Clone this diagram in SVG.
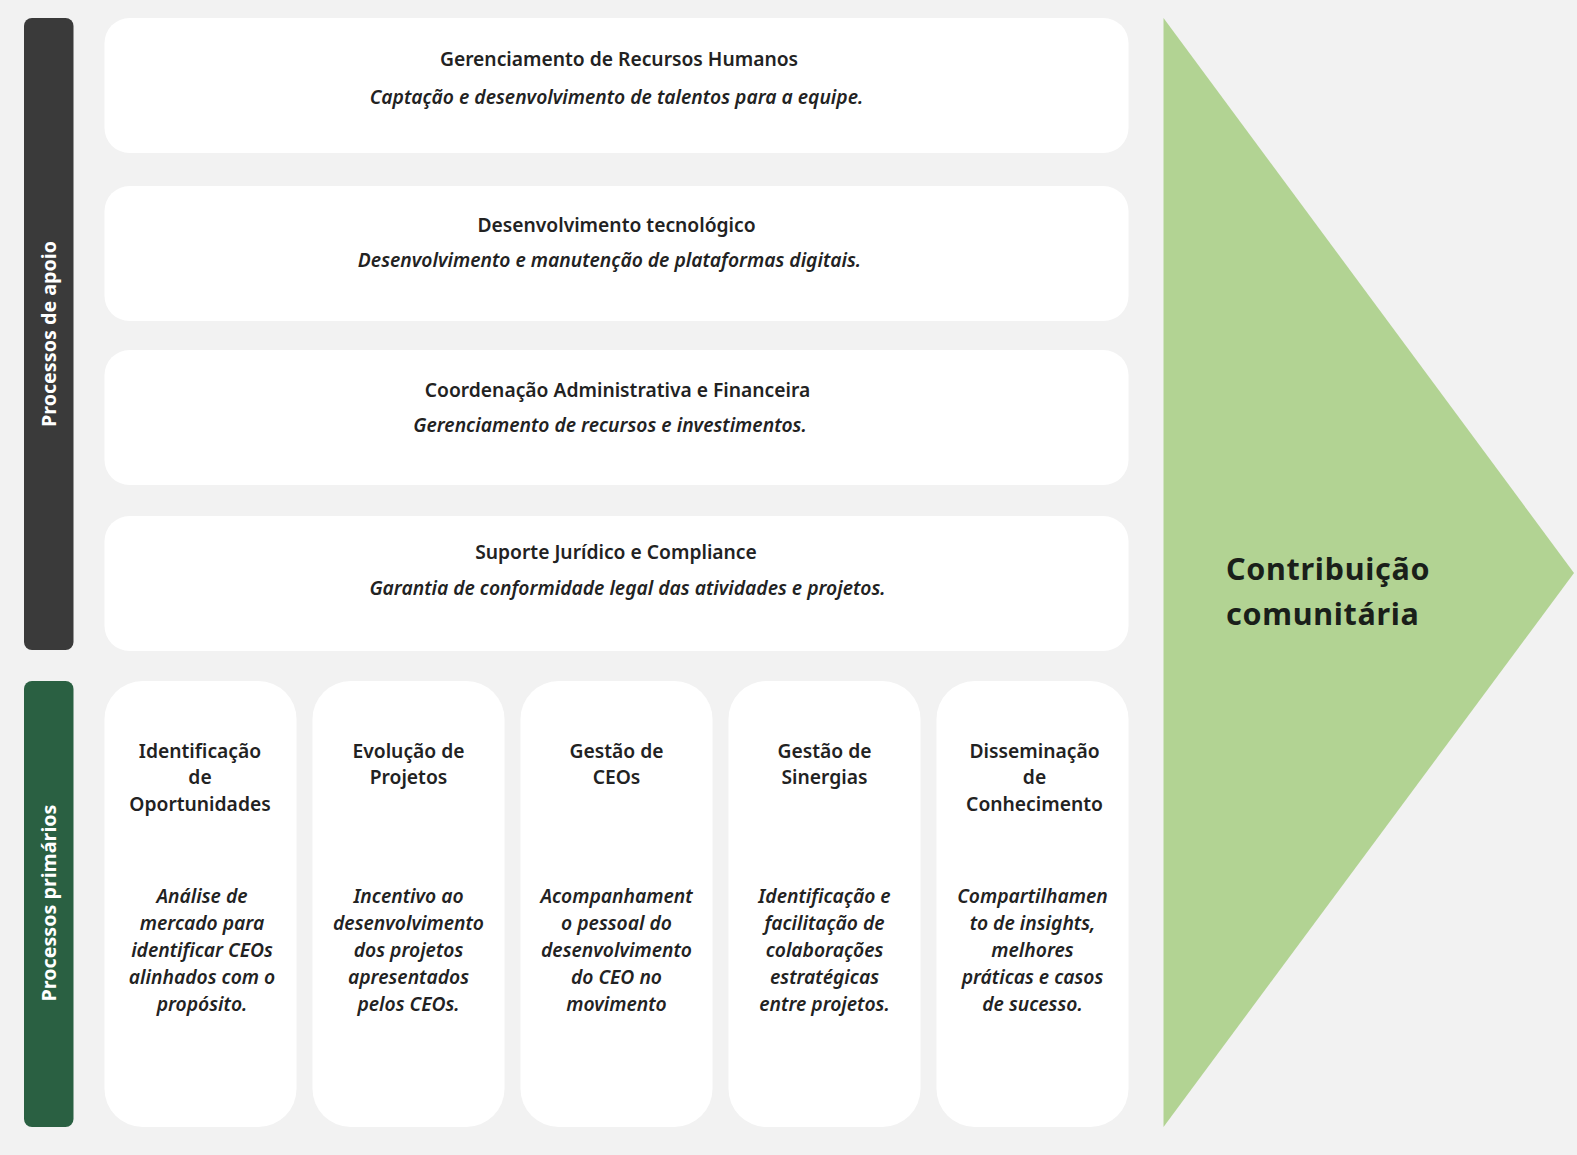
<svg xmlns="http://www.w3.org/2000/svg" width="1577" height="1155" viewBox="0 0 1577 1155">
<style>
.t{font-family:"Noto Sans","Open Sans",sans-serif;font-weight:600;font-size:19.25px;fill:#222;text-anchor:middle}
.s{font-family:"Noto Sans","Open Sans",sans-serif;font-weight:600;font-style:italic;font-size:19.3px;fill:#222;text-anchor:middle}
.v{font-family:"Noto Sans","Open Sans",sans-serif;font-weight:700;font-size:19.7px;fill:#fff;text-anchor:middle}
.big{font-family:"Noto Sans","Open Sans",sans-serif;font-weight:700;font-size:30.5px;letter-spacing:0.7px;fill:#1a1f1a}
.box{fill:#fff}
</style>
<rect width="1577" height="1155" fill="#f2f2f2"/>
<g id="bar-apoio">
<rect x="24" y="18" width="49.5" height="632" rx="8" fill="#3a3a3a"/>
<text class="v" transform="translate(55.5,334) rotate(-90)">Processos de apoio</text>
</g>
<g id="bar-primarios">
<rect x="24" y="681" width="49.5" height="446" rx="8" fill="#2a6042"/>
<text class="v" transform="translate(55.5,903) rotate(-90)">Processos primários</text>
</g>
<g id="rh">
<rect class="box" x="104.5" y="18" width="1024" height="135" rx="25"/>
<text class="t" x="619" y="66">Gerenciamento de Recursos Humanos</text>
<text class="s" x="616.5" y="104">Captação e desenvolvimento de talentos para a equipe.</text>
</g>
<g id="tec">
<rect class="box" x="104.5" y="186" width="1024" height="135" rx="25"/>
<text class="t" x="616.5" y="232">Desenvolvimento tecnológico</text>
<text class="s" x="609.5" y="267">Desenvolvimento e manutenção de plataformas digitais.</text>
</g>
<g id="adm">
<rect class="box" x="104.5" y="350" width="1024" height="135" rx="25"/>
<text class="t" x="617.5" y="397">Coordenação Administrativa e Financeira</text>
<text class="s" x="610" y="432">Gerenciamento de recursos e investimentos.</text>
</g>
<g id="jur">
<rect class="box" x="104.5" y="516" width="1024" height="135" rx="25"/>
<text class="t" x="616" y="559">Suporte Jurídico e Compliance</text>
<text class="s" x="627.5" y="595">Garantia de conformidade legal das atividades e projetos.</text>
</g>
<g id="op">
<rect class="box" x="104.5" y="681" width="192" height="446" rx="38"/>
<text class="t"><tspan x="200" y="757.5">Identificação</tspan><tspan x="200" y="784">de</tspan><tspan x="200" y="810.5">Oportunidades</tspan></text>
<text class="s"><tspan x="202" y="903">Análise de</tspan><tspan x="202" y="930">mercado para</tspan><tspan x="202" y="957">identificar CEOs</tspan><tspan x="202" y="984">alinhados com o</tspan><tspan x="202" y="1011">propósito.</tspan></text>
</g>
<g id="proj">
<rect class="box" x="312.5" y="681" width="192" height="446" rx="38"/>
<text class="t"><tspan x="408.5" y="757.5">Evolução de</tspan><tspan x="408.5" y="784">Projetos</tspan></text>
<text class="s"><tspan x="408.5" y="903">Incentivo ao</tspan><tspan x="408.5" y="930">desenvolvimento</tspan><tspan x="408.5" y="957">dos projetos</tspan><tspan x="408.5" y="984">apresentados</tspan><tspan x="408.5" y="1011">pelos CEOs.</tspan></text>
</g>
<g id="ceos">
<rect class="box" x="520.5" y="681" width="192" height="446" rx="38"/>
<text class="t"><tspan x="616.5" y="757.5">Gestão de</tspan><tspan x="616.5" y="784">CEOs</tspan></text>
<text class="s"><tspan x="616.5" y="903">Acompanhament</tspan><tspan x="616.5" y="930">o pessoal do</tspan><tspan x="616.5" y="957">desenvolvimento</tspan><tspan x="616.5" y="984">do CEO no</tspan><tspan x="616.5" y="1011">movimento</tspan></text>
</g>
<g id="sin">
<rect class="box" x="728.5" y="681" width="192" height="446" rx="38"/>
<text class="t"><tspan x="824.5" y="757.5">Gestão de</tspan><tspan x="824.5" y="784">Sinergias</tspan></text>
<text class="s"><tspan x="824.5" y="903">Identificação e</tspan><tspan x="824.5" y="930">facilitação de</tspan><tspan x="824.5" y="957">colaborações</tspan><tspan x="824.5" y="984">estratégicas</tspan><tspan x="824.5" y="1011">entre projetos.</tspan></text>
</g>
<g id="con">
<rect class="box" x="936.5" y="681" width="192" height="446" rx="38"/>
<text class="t"><tspan x="1034.5" y="757.5">Disseminação</tspan><tspan x="1034.5" y="784">de</tspan><tspan x="1034.5" y="810.5">Conhecimento</tspan></text>
<text class="s"><tspan x="1032.5" y="903">Compartilhamen</tspan><tspan x="1032.5" y="930">to de insights,</tspan><tspan x="1032.5" y="957">melhores</tspan><tspan x="1032.5" y="984">práticas e casos</tspan><tspan x="1032.5" y="1011">de sucesso.</tspan></text>
</g>
<g id="contrib">
<polygon points="1163.5,18 1574,573 1163.5,1127" fill="#b2d393"/>
<text class="big"><tspan x="1226" y="579.5">Contribuição</tspan><tspan x="1226" y="624.5">comunitária</tspan></text>
</g>
<g id="connectors"></g>
</svg>
